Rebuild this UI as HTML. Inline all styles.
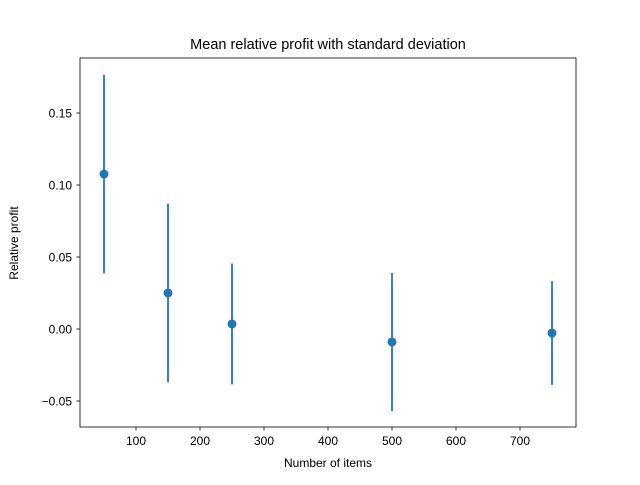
<!DOCTYPE html>
<html><head><meta charset="utf-8"><style>
body{margin:0;background:#fff;}
svg{font-family:"Liberation Sans","DejaVu Sans",sans-serif;}
</style></head><body>
<svg id="chart" width="640" height="480">
<rect width="640" height="480" fill="#fff"/>
<text x="328" y="49" text-anchor="middle" font-size="14.5">Mean relative profit with standard deviation</text>
<g id="marks"></g>
<rect x="80" y="58" width="496" height="369" fill="none" stroke="#000" stroke-width="0.8"/>
<g id="xticks" font-size="12" text-anchor="middle"></g>
<g id="yticks" font-size="12" text-anchor="end"></g>
<text x="328" y="467" text-anchor="middle" font-size="12">Number of items</text>
<text transform="translate(18,243) rotate(-90)" text-anchor="middle" font-size="12">Relative profit</text>
</svg>
<script>
const categories=[50,150,250,500,750];
const means=[0.1076,0.025,0.0035,-0.009,-0.0028];
const stds=[0.069,0.062,0.042,0.048,0.036];
const xTicks=[100,200,300,400,500,600,700];
const yTicks=[-0.05,0,0.05,0.10,0.15];
const yLabels=["−0.05","0.00","0.05","0.10","0.15"];
const NS="http://www.w3.org/2000/svg";
function xs(v){return 72+v*0.64;}
function ys(v){return 329-v*1440;}
function mk(t,a,p){const e=document.createElementNS(NS,t);for(const k in a)e.setAttribute(k,a[k]);p.appendChild(e);return e;}
const marks=document.getElementById('marks');
categories.forEach((c,i)=>{
 const x=xs(c);
 const l=mk('line',{x1:x,x2:x,y1:ys(means[i]+stds[i]),y2:ys(means[i]-stds[i]),stroke:'#1f77b4','stroke-width':1.8},marks);
 
 
 const p=mk('circle',{cx:x,cy:ys(means[i]),r:4.5,fill:'#1f77b4'},marks);
 
 
});
const xg=document.getElementById('xticks');
xTicks.forEach(t=>{
 const x=xs(t);
 const tk=mk('line',{x1:x,x2:x,y1:427,y2:430.5,stroke:'#000','stroke-width':0.8},xg);
 
 
 const tx=mk('text',{x:x,y:445},xg);tx.textContent=t;
 
 
});
const yg=document.getElementById('yticks');
yTicks.forEach((t,i)=>{
 const y=ys(t);
 const tk=mk('line',{x1:76.5,x2:80,y1:y,y2:y,stroke:'#000','stroke-width':0.8},yg);
 
 
 const tx=mk('text',{x:72,y:y+4.5},yg);tx.textContent=yLabels[i];
 
 
});
</script>
</body></html>
